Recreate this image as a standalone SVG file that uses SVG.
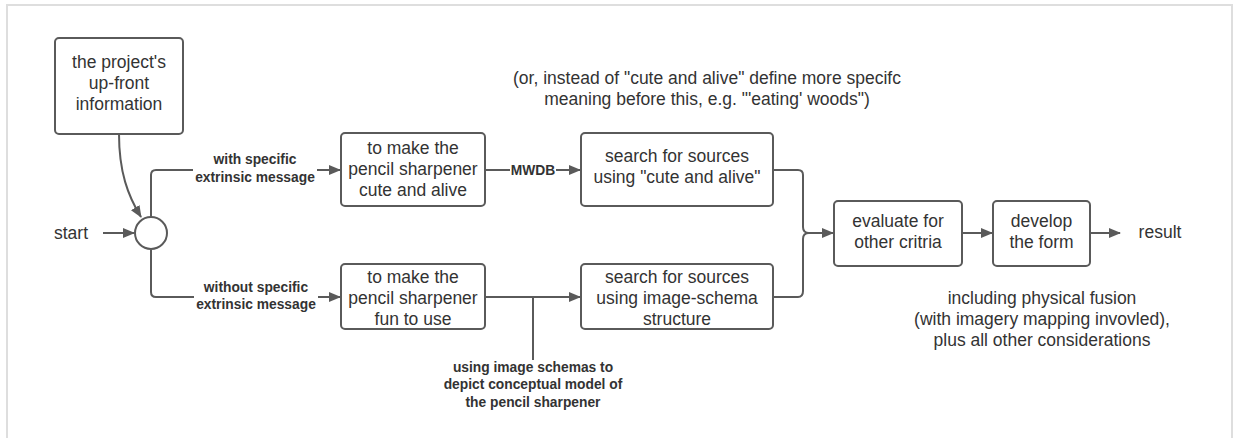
<svg xmlns="http://www.w3.org/2000/svg" width="1233" height="438" viewBox="0 0 1233 438">
  <style>
    .node { fill: #ffffff; stroke: #5a5a5a; stroke-width: 2; }
    .txt { font-family: "Liberation Sans", Arial, sans-serif; font-size: 17.5px; fill: #333333; text-anchor: middle; }
    .lbl { font-family: "Liberation Sans", Arial, sans-serif; font-size: 13.8px; font-weight: bold; fill: #333333; text-anchor: middle; }
    .wire { fill: none; stroke: #5a5a5a; stroke-width: 2; }
    .mask { fill: #ffffff; }
  </style>
  <defs>
    <marker id="arrow" viewBox="0 0 12 10" refX="11" refY="5" markerWidth="12" markerHeight="10" markerUnits="userSpaceOnUse" orient="auto">
      <path d="M0,0 L12,5 L0,10 Z" fill="#5a5a5a"/>
    </marker>
  </defs>

  <rect width="1233" height="438" fill="#ffffff"/>
  <!-- page frame -->
  <path d="M7,440 L7,5 L1232,5 L1232,440" fill="none" stroke="#dedede" stroke-width="2"/>

  <!-- connectors -->
  <g id="connectors">
    <path class="wire" d="M119,134 C119,172 128,196 141,217" marker-end="url(#arrow)"/>
    <path class="wire" d="M103,233 L134,233" marker-end="url(#arrow)"/>
    <path class="wire" d="M151,217 L151,175 Q151,170 156,170 L340,170" marker-end="url(#arrow)"/>
    <path class="wire" d="M151,250 L151,292 Q151,297 156,297 L340,297" marker-end="url(#arrow)"/>
    <path class="wire" d="M485,170 L580,170" marker-end="url(#arrow)"/>
    <path class="wire" d="M485,297 L580,297" marker-end="url(#arrow)"/>
    <path class="wire" d="M533,297 L533,360"/>
    <path class="wire" d="M773,170 L798,170 Q803,170 803,175 L803,227 Q803,233 809,233 Q803,233 803,239 L803,291 Q803,297 798,297 L773,297"/>
    <path class="wire" d="M806,233 L833,233" marker-end="url(#arrow)"/>
    <path class="wire" d="M962,233 L992,233" marker-end="url(#arrow)"/>
    <path class="wire" d="M1090,233 L1120,233" marker-end="url(#arrow)"/>

    <rect class="mask" x="193" y="151" width="124" height="36"/>
    <text class="lbl" x="255" y="164">with specific</text>
    <text class="lbl" x="255" y="182">extrinsic message</text>

    <rect class="mask" x="194" y="278" width="124" height="36"/>
    <text class="lbl" x="256" y="292">without specific</text>
    <text class="lbl" x="256" y="309">extrinsic message</text>

    <rect class="mask" x="510" y="162" width="46" height="16"/>
    <text class="lbl" x="533" y="175">MWDB</text>

    <text class="lbl" x="533" y="372">using image schemas to</text>
    <text class="lbl" x="533" y="389">depict conceptual model of</text>
    <text class="lbl" x="533" y="407">the pencil sharpener</text>
  </g>

  <g id="info">
    <rect class="node" x="55" y="38" width="128" height="96" rx="4"/>
    <text class="txt" x="119" y="68">the project's</text>
    <text class="txt" x="119" y="89">up-front</text>
    <text class="txt" x="119" y="110">information</text>
  </g>

  <g id="start">
    <text class="txt" x="71" y="239">start</text>
  </g>

  <g id="fork">
    <circle class="node" cx="151" cy="233" r="16"/>
  </g>

  <g id="cute">
    <rect class="node" x="341" y="133" width="144" height="73" rx="4"/>
    <text class="txt" x="413" y="154">to make the</text>
    <text class="txt" x="413" y="175">pencil sharpener</text>
    <text class="txt" x="413" y="196">cute and alive</text>
  </g>

  <g id="fun">
    <rect class="node" x="341" y="264" width="144" height="65" rx="4"/>
    <text class="txt" x="413" y="283">to make the</text>
    <text class="txt" x="413" y="304">pencil sharpener</text>
    <text class="txt" x="413" y="325">fun to use</text>
  </g>

  <g id="search-cute">
    <rect class="node" x="581" y="133" width="192" height="73" rx="4"/>
    <text class="txt" x="677" y="162">search for sources</text>
    <text class="txt" x="677" y="183">using "cute and alive"</text>
  </g>

  <g id="search-schema">
    <rect class="node" x="581" y="264" width="192" height="65" rx="4"/>
    <text class="txt" x="677" y="283">search for sources</text>
    <text class="txt" x="677" y="304">using image-schema</text>
    <text class="txt" x="677" y="325">structure</text>
  </g>

  <g id="note-top">
    <text class="txt" x="707" y="84">(or, instead of "cute and alive" define more specifc</text>
    <text class="txt" x="707" y="105">meaning before this, e.g. "'eating' woods")</text>
  </g>

  <g id="evaluate">
    <rect class="node" x="834" y="201" width="128" height="65" rx="4"/>
    <text class="txt" x="898" y="227">evaluate for</text>
    <text class="txt" x="898" y="248">other critria</text>
  </g>

  <g id="develop">
    <rect class="node" x="993" y="201" width="97" height="65" rx="4"/>
    <text class="txt" x="1041.5" y="227">develop</text>
    <text class="txt" x="1041.5" y="248">the form</text>
  </g>

  <g id="result">
    <text class="txt" x="1160" y="238">result</text>
  </g>

  <g id="note-bottom">
    <text class="txt" x="1042" y="304">including physical fusion</text>
    <text class="txt" x="1042" y="325">(with imagery mapping invovled),</text>
    <text class="txt" x="1042" y="346">plus all other considerations</text>
  </g>
</svg>
